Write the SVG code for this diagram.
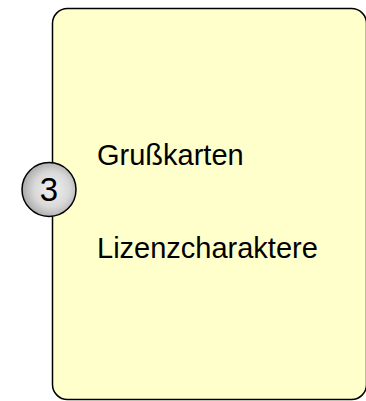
<svg xmlns="http://www.w3.org/2000/svg" width="366" height="401" viewBox="0 0 366 401">
<style>
.lbl{font-family:"Liberation Sans",Arial,sans-serif;font-size:29px;fill:#000}
.num{font-family:"Liberation Sans",Arial,sans-serif;font-size:33px;fill:#000}
</style>
<defs>
<radialGradient id="g" cx="0.55" cy="0.5" r="0.55">
<stop offset="0" stop-color="#f2f2f2"/>
<stop offset="0.6" stop-color="#d8d8d8"/>
<stop offset="1" stop-color="#a8a8a8"/>
</radialGradient>
</defs>
<g id="box">
<rect x="52.5" y="8.5" width="314" height="391" rx="15" fill="#FFFFCC" stroke="#000" stroke-width="1.5"/>
<text class="lbl" x="97" y="165">Grußkarten</text>
<text class="lbl" x="97" y="258">Lizenzcharaktere</text>
</g>
<g id="badge">
<circle cx="49" cy="189.5" r="27" fill="url(#g)" stroke="#000" stroke-width="1.5"/>
<text class="num" x="49" y="201" text-anchor="middle">3</text>
</g>
<g id="connectors"/>
</svg>
